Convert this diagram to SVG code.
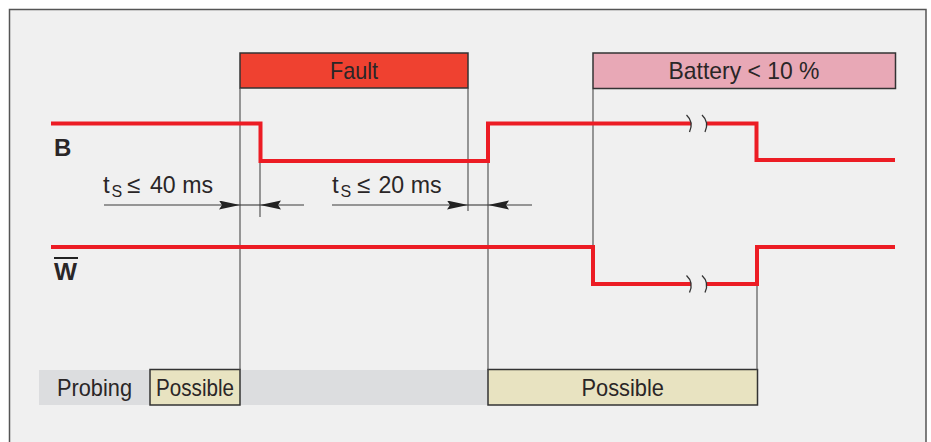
<svg xmlns="http://www.w3.org/2000/svg" width="931" height="442" viewBox="0 0 931 442">
<style>
text{font-family:"Liberation Sans",Arial,sans-serif;fill:#2a2627;font-size:24px}
.lbl{font-weight:bold}
.sig{fill:none;stroke:#ec1c24;stroke-width:4;stroke-linejoin:miter;stroke-linecap:butt}
.guide{stroke:#4a4a4a;stroke-width:1.1;fill:none}
.dim{stroke:#3a3a3a;stroke-width:1.1;fill:none}
.brk{stroke:#333;stroke-width:1.3;fill:none}
.box{stroke:#333;stroke-width:1.5}
</style>
<defs>
<marker id="ah" markerUnits="userSpaceOnUse" markerWidth="22" markerHeight="10" refX="21" refY="4.5" orient="auto">
<path d="M0,0 L21,4.5 L0,9 L3,4.5 Z" fill="#222"/>
</marker>
</defs>
<rect width="931" height="442" fill="#ffffff"/>
<g id="frame">
<rect x="9.5" y="9.5" width="916.5" height="440" fill="#f0f0f0" stroke="#555" stroke-width="1.5"/>
</g>
<g id="fault">
<rect class="box" x="240" y="53" width="228" height="35" fill="#ef4130"/>
<text x="330" y="79" textLength="48" lengthAdjust="spacingAndGlyphs">Fault</text>
</g>
<g id="battery">
<rect class="box" x="593" y="53" width="302.5" height="35.5" fill="#e8a8b6"/>
<text x="668.5" y="79" textLength="151" lengthAdjust="spacingAndGlyphs">Battery &lt; 10 %</text>
</g>
<g id="probing">
<rect x="39" y="370" width="449" height="35" fill="#dcdddf"/>
<text x="57" y="396" textLength="75" lengthAdjust="spacingAndGlyphs">Probing</text>
</g>
<g id="possible1">
<rect class="box" x="150" y="369.5" width="90" height="35.5" fill="#e8e3c1" stroke-width="1.2"/>
<text x="156" y="396" textLength="78" lengthAdjust="spacingAndGlyphs">Possible</text>
</g>
<g id="possible2">
<rect class="box" x="488" y="369.5" width="269.5" height="35.5" fill="#e8e3c1" stroke-width="1.2"/>
<text x="581.5" y="396" textLength="82.5" lengthAdjust="spacingAndGlyphs">Possible</text>
</g>
<g id="connectors">
<line class="guide" x1="240" y1="88" x2="240" y2="370"/>
<line class="guide" x1="468" y1="88" x2="468" y2="211"/>
<line class="guide" x1="260" y1="161" x2="260" y2="217"/>
<line class="guide" x1="488" y1="161" x2="488" y2="370"/>
<line class="guide" x1="593" y1="89" x2="593" y2="247"/>
<line class="guide" x1="757" y1="284" x2="757" y2="370"/>
<line class="dim" x1="104" y1="205" x2="240" y2="205" marker-end="url(#ah)"/>
<line class="dim" x1="240" y1="205" x2="260" y2="205"/>
<line class="dim" x1="304" y1="205" x2="260" y2="205" marker-end="url(#ah)"/>
<line class="dim" x1="332" y1="205" x2="468" y2="205" marker-end="url(#ah)"/>
<line class="dim" x1="468" y1="205" x2="488" y2="205"/>
<line class="dim" x1="532" y1="205" x2="488" y2="205" marker-end="url(#ah)"/>
</g>
<g id="signal-B">
<path class="sig" d="M51,123.5 H260.5 V161 H488 V123.5 H691"/>
<path class="sig" d="M707,123.5 H756.5 V160 H895"/>
<path class="brk" d="M686.5,115 Q694,122 689.5,132 M702,115 Q709.5,122 705,132"/>
<text class="lbl" x="54" y="156" font-size="22">B</text>
</g>
<g id="signal-W">
<path class="sig" d="M51,247 H593 V284 H691"/>
<path class="sig" d="M707,284 H757 V247 H895"/>
<path class="brk" d="M686.5,275.5 Q694,282.5 689.5,292.5 M702,275.5 Q709.5,282.5 705,292.5"/>
<text class="lbl" x="54" y="280" font-size="24" textLength="23" lengthAdjust="spacingAndGlyphs">W</text>
<line x1="54" y1="258" x2="78" y2="258" stroke="#222" stroke-width="2"/>
</g>
<g id="timing-labels">
<text y="193" font-size="23"><tspan x="103">t</tspan><tspan x="111.5" dy="4" font-size="16">S</tspan><tspan x="127" dy="-4">≤</tspan><tspan x="150" textLength="63" lengthAdjust="spacingAndGlyphs">40 ms</tspan></text>
<text y="193" font-size="23"><tspan x="332">t</tspan><tspan x="340.5" dy="4" font-size="16">S</tspan><tspan x="357" dy="-4">≤</tspan><tspan x="378.5" textLength="63" lengthAdjust="spacingAndGlyphs">20 ms</tspan></text>
</g>
</svg>
